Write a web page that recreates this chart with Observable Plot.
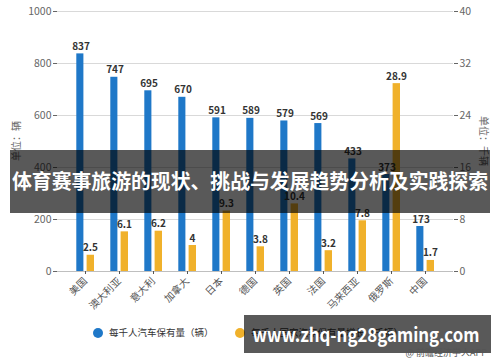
<!DOCTYPE html>
<html><head><meta charset="utf-8">
<script src="https://cdn.jsdelivr.net/npm/d3@7"></script>
<script src="https://cdn.jsdelivr.net/npm/@observablehq/plot@0.6"></script>
<style>body{margin:0;background:#fff}</style>
</head><body><div id="chart"></div>
<script>
const countries = ["美国","澳大利亚","意大利","加拿大","日本","德国","英国","法国","马来西亚","俄罗斯","中国"];
const carsPerThousand = [837,747,695,670,591,589,579,569,433,373,173];
const secondSeries = [2.5,6.1,6.2,4,9.3,3.8,10.4,3.2,7.8,28.9,1.7];
const leftTicks = [0,200,400,600,800,1000];
const rightTicks = [0,8,16,24,32,40];
const seriesNames = ["每千人汽车保有量（辆）","每千人国家汽车保有量增长（千辆）"];
const title = "体育赛事旅游的现状、挑战与发展趋势分析及实践探索";
const watermarkUrl = "www.zhq-ng28gaming.com";
const source = "@ 前瞻经济学人APP";
const leftUnit = "单位：辆";
const rightUnit = "单位：千辆";

const ratio = leftTicks[leftTicks.length-1] / rightTicks[rightTicks.length-1];
const blueData = countries.map((c,i)=>({country:c, value:carsPerThousand[i]}));
const orangeData = countries.map((c,i)=>({country:c, value:secondSeries[i], scaled:secondSeries[i]*ratio}));
const BLUE="#1f78c8", ORANGE="#f0b12b";
const font = "'Noto Sans CJK SC', 'Noto Sans', sans-serif";

const chart = Plot.plot({
  width:500, height:362,
  marginTop:11, marginBottom:91, marginLeft:57, marginRight:47,
  style:{fontFamily:font, background:"#fff", overflow:"visible"},
  x:{domain:countries, range:[64.4,445], padding:0, label:null},
  y:{domain:[0,1000], label:null},
  marks:[
    Plot.gridY(leftTicks,{stroke:"#d9d9d9", strokeOpacity:1}),
    Plot.ruleY([0],{stroke:"#bfbfbf"}),
    Plot.barY(blueData,{x:"country", y:"value", fill:BLUE, insetLeft:8.3, insetRight:18.6}),
    Plot.barY(orangeData,{x:"country", y:"scaled", fill:ORANGE, insetLeft:18.6, insetRight:8}),
    Plot.text(blueData,{x:"country", y:"value", text:d=>String(d.value), dx:-4.5, dy:-4, lineAnchor:"bottom", fontWeight:"bold", fontSize:10, fill:"#333"}),
    Plot.text(orangeData,{x:"country", y:"scaled", text:d=>String(d.value), dx:5, dy:-4, lineAnchor:"bottom", fontWeight:"bold", fontSize:10, fill:"#333"}),
    Plot.axisY(leftTicks,{anchor:"left", tickSize:4, tickPadding:2, fontSize:10.5, color:"#666", tickFormat:d=>String(d), label:null}),
    Plot.axisY(rightTicks.map(d=>d*ratio),{anchor:"right", tickSize:4, tickPadding:2, fontSize:10.5, color:"#666", tickFormat:d=>String(d/ratio), label:null}),
    Plot.axisX({tickRotate:-45, tickSize:3, tickPadding:5, fontSize:10, color:"#555", label:null})
  ]
});
document.getElementById("chart").appendChild(chart);

const svg = d3.select(chart);
// unit labels
svg.append("text").attr("transform","translate(20,141) rotate(-90)")
  .attr("text-anchor","middle").attr("font-size",10).attr("fill","#666").attr("font-family",font).text(leftUnit);
svg.append("text").attr("transform","translate(480,141) rotate(90)")
  .attr("text-anchor","middle").attr("font-size",10).attr("fill","#666").attr("font-family",font).text(rightUnit);
// legend
const lg = svg.append("g").attr("font-family",font).attr("font-size",9.5).attr("fill","#333").attr("text-anchor","start");
lg.append("circle").attr("cx",98).attr("cy",333).attr("r",5).attr("fill",BLUE);
lg.append("text").attr("x",109).attr("y",333).attr("dy","0.35em").text(seriesNames[0]);
lg.append("circle").attr("cx",240).attr("cy",333).attr("r",5).attr("fill",ORANGE);
lg.append("text").attr("x",251).attr("y",333).attr("dy","0.35em").text(seriesNames[1]);
// overlay title banner
svg.append("rect").attr("x",10).attr("y",150).attr("width",480).attr("height",63).attr("fill","#000").attr("fill-opacity",0.65);
svg.append("text").attr("x",250).attr("y",182).attr("dy","0.35em").attr("text-anchor","middle")
  .attr("font-family",font).attr("font-weight","bold").attr("font-size",20).attr("fill","#fff")
  .attr("textLength",476).attr("lengthAdjust","spacingAndGlyphs").text(title);
// url banner
svg.append("rect").attr("x",244).attr("y",315).attr("width",247).attr("height",38).attr("fill","#000").attr("fill-opacity",0.65);
svg.append("text").attr("x",366).attr("y",335).attr("dy","0.35em").attr("text-anchor","middle")
  .attr("font-family",font).attr("font-weight","bold").attr("font-size",19).attr("fill","#fff")
  .attr("textLength",227).attr("lengthAdjust","spacingAndGlyphs").text(watermarkUrl);
// source
svg.append("text").attr("x",487).attr("y",356).attr("text-anchor","end")
  .attr("font-family",font).attr("font-size",9).attr("fill","#555").text(source);
</script>
</body></html>
